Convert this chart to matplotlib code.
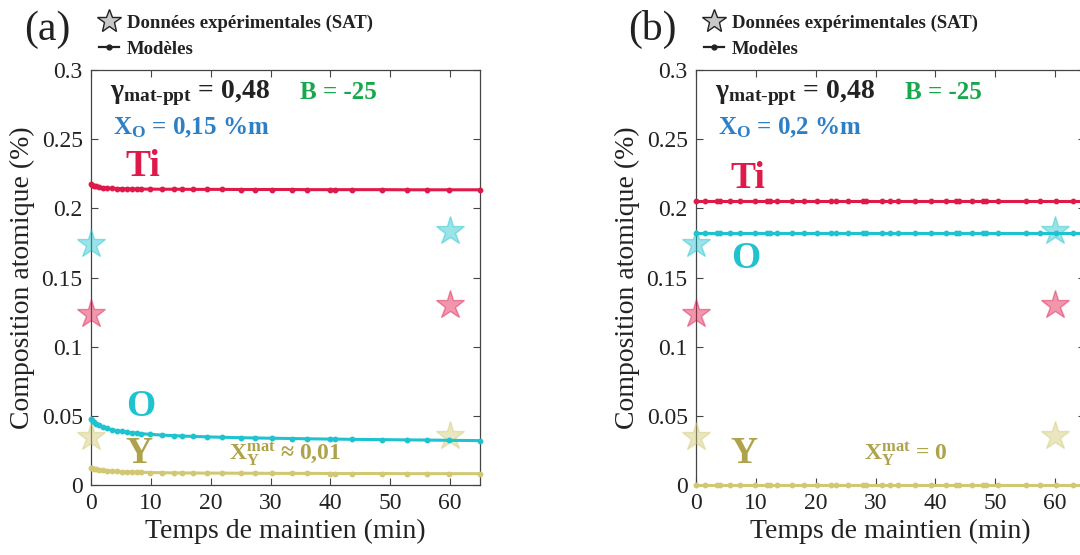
import matplotlib
matplotlib.use("Agg")
import matplotlib.pyplot as plt
from matplotlib.lines import Line2D

plt.rcParams['font.family'] = ['Liberation Serif', 'DejaVu Serif']
plt.rcParams['mathtext.fontset'] = 'custom'
plt.rcParams['mathtext.rm'] = 'Liberation Serif'
plt.rcParams['mathtext.it'] = 'Liberation Serif:italic'
plt.rcParams['mathtext.bf'] = 'Liberation Serif:bold'

# ---------------- data ----------------
# experimental SAT data (same in both panels)
t_exp = [0, 60]
exp_Ti = [0.1236, 0.1300]
exp_O = [0.1745, 0.1837]
exp_Y = [0.0345, 0.0355]

# panel (a) model, X_O = 0.15 %m
t_a = [0, 0.2, 0.5, 0.9, 1.4, 2.0, 2.7, 3.5, 4.3, 5.1, 6.0, 6.8, 7.7, 8.4, 9.9,
       11.8, 13.8, 15.2, 17.1, 19.4, 21.9, 25.0, 27.4, 30.3, 33.6, 36.1, 40.0,
       40.8, 43.6, 48.6, 52.8, 56.1, 59.8, 65.0]
Ti_a = [0.2175, 0.2170, 0.2164, 0.2158, 0.2153, 0.2149, 0.2146, 0.2144, 0.2143,
        0.2142, 0.2141, 0.2140, 0.2140, 0.2139, 0.2139, 0.2138, 0.2138, 0.2138,
        0.2137, 0.2137, 0.2137, 0.2136, 0.2136, 0.2136, 0.2136, 0.2135, 0.2135,
        0.2135, 0.2135, 0.2135, 0.2134, 0.2134, 0.2134, 0.2134]
O_a = [0.0478, 0.0468, 0.0455, 0.0443, 0.0431, 0.0419, 0.0409, 0.0400, 0.0393,
       0.0387, 0.0382, 0.0378, 0.0374, 0.0371, 0.0366, 0.0361, 0.0357, 0.0354,
       0.0351, 0.0348, 0.0345, 0.0342, 0.0340, 0.0338, 0.0336, 0.0334, 0.0332,
       0.0332, 0.0330, 0.0328, 0.0326, 0.0325, 0.0323, 0.0321]
Y_a = [0.0125, 0.0122, 0.0118, 0.0114, 0.0110, 0.0107, 0.0104, 0.0101, 0.0099,
       0.0097, 0.0095, 0.0094, 0.0093, 0.0092, 0.0090, 0.0089, 0.0088, 0.0087,
       0.0087, 0.0086, 0.0086, 0.0085, 0.0085, 0.0084, 0.0084, 0.0084, 0.0083,
       0.0083, 0.0083, 0.0083, 0.0082, 0.0082, 0.0082, 0.0082]

# panel (b) model, X_O = 0.2 %m
t_b = [0, 1.5, 3.5, 4.0, 5.7, 7.4, 9.9, 11.9, 12.4, 13.6, 16.1, 18.0, 20.3, 22.5,
       23.4, 25.4, 27.9, 28.4, 31.0, 32.4, 33.8, 36.6, 39.2, 41.7, 43.4, 43.9,
       46.2, 47.9, 48.4, 50.4, 55.2, 57.4, 60.2, 63.0, 65.0]
Ti_b = [0.2053] * len(t_b)
O_b = [0.1822] * len(t_b)
Y_b = [0.0] * len(t_b)

xticks = [0, 10, 20, 30, 40, 50, 60]
yticks = [0, 0.05, 0.1, 0.15, 0.2, 0.25, 0.3]
yticklabels = ['0', '0.05', '0.1', '0.15', '0.2', '0.25', '0.3']

C_TI = '#e0194b'
C_O = '#1fc3d0'
C_Y = '#d2c873'
C_YTXT = '#aea34b'
C_GREEN = '#16a84a'
C_BLUE = '#2d80c6'
C_DARK = '#222222'

fig = plt.figure(figsize=(10.8, 5.55), dpi=100)
W, H = 1080, 555


def make_axes(x0):
    ax = fig.add_axes([x0 / W, (555 - 485) / H, 389 / W, 415 / H])
    ax.set_xlim(0, 65)
    ax.set_ylim(0, 0.3)
    ax.set_xticks(xticks)
    ax.set_yticks(yticks)
    ax.set_yticklabels(yticklabels)
    ax.tick_params(direction='in', top=True, right=True, length=5, width=0.8,
                   labelsize=17, colors='#444444', labelcolor='#222222', pad=6)
    for s in ax.spines.values():
        s.set_color('#444444')
        s.set_linewidth(0.9)
    ax.set_xlabel('Temps de maintien (min)', fontsize=20, color='#222222', labelpad=3)
    ax.set_ylabel('Composition atomique (%)', fontsize=20, color='#222222', labelpad=5)
    return ax


def draw_stars(ax):
    for vals, c in ((exp_O, C_O), (exp_Ti, C_TI), (exp_Y, C_Y)):
        ax.plot(t_exp, vals, linestyle='none', marker='*', markersize=21,
                markerfacecolor=c, markeredgecolor=c, alpha=0.45, clip_on=False,
                zorder=3)


def draw_model(ax, t, vals, c):
    ax.plot(t, vals, color=c, lw=2.2, marker='o', markersize=3.2, clip_on=False,
            zorder=4)


def legend(ax, label):
    handles = [
        Line2D([], [], linestyle='none', marker='*', markersize=18,
               markerfacecolor='#c8c8c8', markeredgecolor='#222222', markeredgewidth=1.0),
        Line2D([], [], color='#222222', lw=1.6, marker='o', markersize=3.5),
    ]
    leg = ax.legend(handles, ['Données expérimentales (SAT)', 'Modèles'],
                    loc='lower left', bbox_to_anchor=(0.02, 1.03), frameon=False,
                    prop={'weight': 'bold', 'size': 13.5}, handlelength=1.1,
                    handletextpad=0.4, labelspacing=0.45, borderaxespad=0.0,
                    borderpad=0.0)
    for tx in leg.get_texts():
        tx.set_color('#222222')
    ax.text(-0.113, 1.098, label, transform=ax.transAxes, fontsize=30,
            color='#222222', ha='center', va='center')


# ---------------- panel (a) ----------------
ax1 = make_axes(91)
draw_stars(ax1)
draw_model(ax1, t_a, Ti_a, C_TI)
draw_model(ax1, t_a, O_a, C_O)
draw_model(ax1, t_a, Y_a, C_Y)
legend(ax1, '(a)')

# ---------------- panel (b) ----------------
ax2 = make_axes(696)
draw_stars(ax2)
draw_model(ax2, t_b, Ti_b, C_TI)
draw_model(ax2, t_b, O_b, C_O)
draw_model(ax2, t_b, Y_b, C_Y)
legend(ax2, '(b)')


def annotate(ax, xo):
    ax.text(3.2, 0.2835, r'$\mathbf{\gamma}_{\mathbf{mat}\text{-}\mathbf{ppt}}$ = 0,48',
            fontsize=20, fontweight='bold', color=C_DARK, va='center')
    ax.text(35.0, 0.2835, 'B = -25', fontsize=18, fontweight='bold',
            color=C_GREEN, va='center')
    ax.text(3.6, 0.2585, r'X$_{\mathbf{O}}$ = ' + xo, fontsize=18,
            fontweight='bold', color=C_BLUE, va='center')


annotate(ax1, '0,15 %m')
annotate(ax2, '0,2 %m')

big = dict(fontsize=27, fontweight='bold', va='center')
ax1.text(5.8, 0.2305, 'Ti', color=C_TI, **big)
ax1.text(5.8, 0.0565, 'O', color=C_O, **big)
ax1.text(5.8, 0.0225, 'Y', color=C_YTXT, **big)
ax1.text(23.0, 0.0225, r'X$_{\mathbf{Y}}^{\mathbf{mat}}$ ≈ 0,01', fontsize=17,
         fontweight='bold', color=C_YTXT, va='center')

ax2.text(5.8, 0.2215, 'Ti', color=C_TI, **big)
ax2.text(5.8, 0.1635, 'O', color=C_O, **big)
ax2.text(5.8, 0.0225, 'Y', color=C_YTXT, **big)
ax2.text(28.0, 0.0225, r'X$_{\mathbf{Y}}^{\mathbf{mat}}$ = 0', fontsize=17,
         fontweight='bold', color=C_YTXT, va='center')

fig.savefig('out.png', dpi=100)
